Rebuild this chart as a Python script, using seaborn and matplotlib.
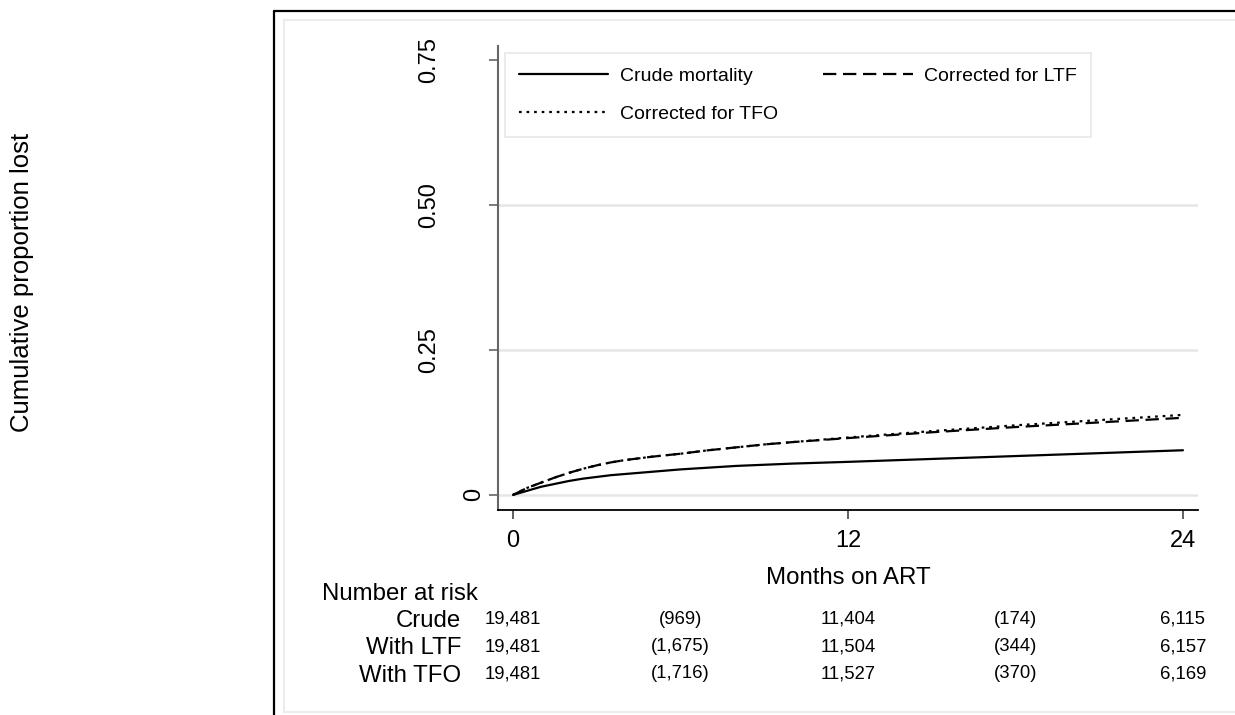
import numpy as np
import pandas as pd
import matplotlib
matplotlib.use("Agg")
import matplotlib.pyplot as plt
import matplotlib.transforms as mtransforms
from matplotlib.lines import Line2D
import seaborn as sns

# ---------------- data ----------------
months = [0, 0.5, 1, 1.5, 2, 2.5, 3, 3.5, 4, 5, 6, 7, 8, 9, 10, 12, 15, 18, 21, 24]
crude = [0, 0.007, 0.014, 0.019, 0.024, 0.028, 0.031, 0.034, 0.036, 0.040, 0.044, 0.047, 0.050, 0.052, 0.054, 0.057, 0.062, 0.067, 0.072, 0.077]
ltf = [0, 0.012, 0.021, 0.030, 0.038, 0.045, 0.051, 0.056, 0.060, 0.066, 0.071, 0.077, 0.082, 0.087, 0.091, 0.098, 0.108, 0.117, 0.125, 0.133]
tfo = [0, 0.012, 0.021, 0.030, 0.038, 0.045, 0.051, 0.056, 0.060, 0.066, 0.071, 0.077, 0.082, 0.087, 0.091, 0.099, 0.110, 0.120, 0.129, 0.138]

series_labels = ["Crude mortality", "Corrected for LTF", "Corrected for TFO"]
xticks = [0, 12, 24]
yticks = [0, 0.25, 0.5, 0.75]
ytick_labels = ["0", "0.25", "0.50", "0.75"]

risk_times = [0, 6, 12, 18, 24]
risk_rows = ["Crude", "With LTF", "With TFO"]
risk_crude = ["19,481", "(969)", "11,404", "(174)", "6,115"]
risk_ltf = ["19,481", "(1,675)", "11,504", "(344)", "6,157"]
risk_tfo = ["19,481", "(1,716)", "11,527", "(370)", "6,169"]

# ---------------- style ----------------
sns.set_theme(style="white")
plt.rcParams["font.family"] = ["Liberation Sans", "DejaVu Sans"]
plt.rcParams["text.color"] = "black"
plt.rcParams["axes.labelcolor"] = "black"
plt.rcParams["xtick.color"] = "black"
plt.rcParams["ytick.color"] = "black"
plt.rcParams["legend.labelcolor"] = "black"

W, H = 1235, 715
fig = plt.figure(figsize=(W / 100, H / 100), dpi=100)
fig.patch.set_facecolor("white")

def fx(px):
    return px / W

def fy(py):
    return 1 - py / H

ax = fig.add_axes([fx(498), fy(510), fx(1198) - fx(498), fy(46) - fy(510)])
ax.set_facecolor("white")

df = pd.DataFrame({"month": months, "crude": crude, "ltf": ltf, "tfo": tfo})

sns.lineplot(data=df, x="month", y="crude", ax=ax, color="black", lw=1.6,
             label=series_labels[0], legend=False)
l_crude = ax.lines[-1]
sns.lineplot(data=df, x="month", y="ltf", ax=ax, color="black", lw=1.6,
             label=series_labels[1], legend=False)
l_ltf = ax.lines[-1]
l_ltf.set_dashes((6.0, 3.0))
sns.lineplot(data=df, x="month", y="tfo", ax=ax, color="black", lw=1.6,
             label=series_labels[2], legend=False)
l_tfo = ax.lines[-1]
l_tfo.set_dashes((1.2, 2.2))

ax.set_xlim(-0.537, 24.54)
ax.set_ylim(-0.026, 0.774)

# spines
for s in ["top", "right"]:
    ax.spines[s].set_visible(False)
ax.spines["left"].set_color("#666666")
ax.spines["left"].set_linewidth(1.5)
ax.spines["bottom"].set_color("black")
ax.spines["bottom"].set_linewidth(1.3)

# ticks and grid
ax.set_yticks(yticks)
ax.set_yticklabels(ytick_labels, rotation=90, va="center")
ax.set_xticks(xticks)
ax.set_xticklabels([str(t) for t in xticks])
ax.grid(axis="y", color="#e6e6e6", lw=1.8)
ax.grid(axis="x", visible=False)
ax.set_axisbelow(True)
ax.get_ygridlines()[-1].set_visible(False)

ax.tick_params(axis="y", which="major", direction="out", length=6.5, width=1.2,
               color="#666666", labelsize=17, labelcolor="black", left=True)
ax.tick_params(axis="x", which="major", direction="out", length=6.5, width=1.2,
               color="#444444", labelsize=17, labelcolor="black", bottom=True, pad=8)

for t, lab in zip(ax.yaxis.get_major_ticks(), ytick_labels):
    t.set_pad(3 if lab == "0" else 35)

ax.set_xlabel("")
ax.set_ylabel("")

# legend
handles = [l_crude, l_tfo, l_ltf]
labels = [series_labels[0], series_labels[2], series_labels[1]]
leg = ax.legend(handles, labels, ncol=2, loc="upper left",
                bbox_to_anchor=(fx(505), fy(53), fx(1091) - fx(505), 0),
                bbox_transform=fig.transFigure, mode="expand", borderaxespad=0,
                fontsize=14, handlelength=4.6, handletextpad=0.6,
                labelspacing=1.05, borderpad=0.72, frameon=True, fancybox=False,
                framealpha=1, edgecolor="#e8e8e8", labelcolor="black")
leg.get_frame().set_linewidth(1.2)

# axis titles
fig.text(fx(22), fy(282), "Cumulative proportion lost", rotation=90,
         ha="center", va="center", fontsize=18.5, color="black")
fig.text(fx(848), fy(578), "Months on ART", ha="center", va="center",
         fontsize=17.3, color="black")

# number-at-risk table
fig.text(fx(322), fy(594), "Number at risk", ha="left", va="center",
         fontsize=17.3, color="black")
row_y = [621, 647.5, 676]
num_y = [619.5, 646.5, 674]
for name, yy in zip(risk_rows, row_y):
    fig.text(fx(461), fy(yy), name, ha="right", va="center", fontsize=17.3, color="black")
blend = mtransforms.blended_transform_factory(ax.transData, fig.transFigure)
for vals, yy in zip([risk_crude, risk_ltf, risk_tfo], num_y):
    for t, v in zip(risk_times, vals):
        fig.text(t, fy(yy), v, ha="center", va="center", fontsize=13.3,
                 transform=blend, color="black")

# outer frame
fig.add_artist(Line2D([fx(274), fx(274)], [fy(11), 0], transform=fig.transFigure,
                      color="black", lw=1.6))
fig.add_artist(Line2D([fx(274), 1], [fy(11), fy(11)], transform=fig.transFigure,
                      color="black", lw=1.6))
inner = "#ececec"
fig.add_artist(Line2D([fx(284), fx(284)], [fy(20), fy(712)], transform=fig.transFigure,
                      color=inner, lw=1.5))
fig.add_artist(Line2D([fx(284), 1], [fy(20), fy(20)], transform=fig.transFigure,
                      color=inner, lw=1.5))
fig.add_artist(Line2D([fx(284), 1], [fy(712), fy(712)], transform=fig.transFigure,
                      color=inner, lw=1.5))

fig.savefig("out.png", dpi=100, facecolor="white")
